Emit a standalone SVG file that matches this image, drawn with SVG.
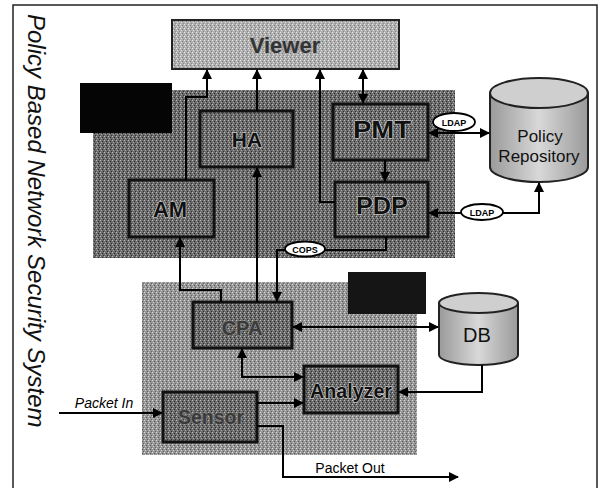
<svg xmlns="http://www.w3.org/2000/svg" width="600" height="488" viewBox="0 0 600 488">
<defs>
<marker id="arr" viewBox="0 0 10 10" refX="9" refY="5" markerWidth="10" markerHeight="10" markerUnits="userSpaceOnUse" orient="auto-start-reverse">
<path d="M0,0 L10,5 L0,10 z" fill="#000"/>
</marker>
<pattern id="stip" width="4" height="4" patternUnits="userSpaceOnUse">
<rect width="4" height="4" fill="#6c6c6c"/>
<rect x="0" y="0" width="1" height="1" fill="#bdbdbd"/>
<rect x="2" y="1" width="1" height="1" fill="#2a2a2a"/>
<rect x="1" y="2" width="1" height="1" fill="#a4a4a4"/>
<rect x="3" y="3" width="1" height="1" fill="#333"/>
</pattern>
<pattern id="stipL" width="4" height="4" patternUnits="userSpaceOnUse">
<rect width="4" height="4" fill="#969696"/>
<rect x="0" y="0" width="1" height="1" fill="#dcdcdc"/>
<rect x="2" y="1" width="1" height="1" fill="#555"/>
<rect x="1" y="2" width="1" height="1" fill="#cfcfcf"/>
<rect x="3" y="3" width="1" height="1" fill="#666"/>
</pattern>
<pattern id="stipV" width="4" height="4" patternUnits="userSpaceOnUse">
<rect width="4" height="4" fill="#b0b0b0"/>
<rect x="0" y="0" width="1" height="1" fill="#e6e6e6"/>
<rect x="2" y="1" width="1" height="1" fill="#777"/>
<rect x="1" y="2" width="1" height="1" fill="#dedede"/>
<rect x="3" y="3" width="1" height="1" fill="#888"/>
</pattern>
<linearGradient id="cyl" x1="0" y1="0" x2="1" y2="0">
<stop offset="0" stop-color="#9a9a9a"/>
<stop offset="0.5" stop-color="#d8d8d8"/>
<stop offset="1" stop-color="#9a9a9a"/>
</linearGradient>
</defs>
<style>
.box{fill:url(#stip);stroke:#111;stroke-width:3}
.lbl{font-family:"Liberation Sans",Arial,sans-serif;font-weight:bold;text-anchor:middle;fill:#111;stroke:#d8d8d8;stroke-width:1.2;paint-order:stroke}
.dim{fill:#3a3a3a;stroke:#8a8a8a}
.reg{font-family:"Liberation Sans",Arial,sans-serif;text-anchor:middle;fill:#111}
.conn path{fill:none;stroke:#000;stroke-width:2}
.tag{fill:#fff;stroke:#000;stroke-width:1.8}
.tagt{font-family:"Liberation Sans",Arial,sans-serif;font-weight:bold;font-size:9px;text-anchor:middle;fill:#000}
</style>
<rect width="600" height="488" fill="#fff"/>
<g id="frame" stroke="#222" stroke-width="1.5" fill="none">
<path d="M13,488 V5 H597 V488"/>
</g>
<text id="title" transform="translate(28,14) rotate(90)" font-family="Liberation Sans,Arial,sans-serif" font-style="italic" font-size="24" fill="#111">Policy Based Network Security System</text>

<g id="upper-region">
<rect x="93" y="90" width="362" height="168" fill="url(#stip)"/>
<rect x="80" y="83" width="92" height="50" fill="#050505"/>
</g>
<g id="lower-region">
<rect x="142" y="282" width="275" height="173" fill="url(#stipL)"/>
<rect x="348" y="272" width="78" height="42" fill="#151515"/>
</g>

<g id="viewer">
<rect x="172" y="20" width="227" height="49" fill="url(#stipV)" stroke="#222" stroke-width="2"/>
<text class="lbl" x="285" y="53" font-size="22" style="fill:#333;stroke:#aaa">Viewer</text>
</g>
<g id="ha">
<rect class="box" x="200" y="111" width="93" height="56"/>
<text class="lbl" x="247" y="147" font-size="21">HA</text>
</g>
<g id="am">
<rect class="box" x="129" y="180" width="85" height="57"/>
<text class="lbl" x="170" y="217" font-size="22">AM</text>
</g>
<g id="pmt">
<rect class="box" x="333" y="104" width="95" height="56"/>
<text class="lbl" x="382" y="138" font-size="24" textLength="58" lengthAdjust="spacingAndGlyphs">PMT</text>
</g>
<g id="pdp">
<rect class="box" x="335" y="182" width="93" height="55"/>
<text class="lbl" x="382" y="214" font-size="24" textLength="52" lengthAdjust="spacingAndGlyphs">PDP</text>
</g>
<g id="policy-repository">
<path d="M490,93 V167 A49,15 0 0 0 588,167 V93" fill="url(#cyl)" stroke="#222" stroke-width="2"/>
<ellipse cx="539" cy="93" rx="49" ry="15" fill="#cfcfcf" stroke="#222" stroke-width="2"/>
<text class="reg" x="540" y="142" font-size="17">Policy</text>
<text class="reg" x="539" y="162" font-size="17">Repository</text>
</g>
<g id="cpa">
<rect class="box" x="193" y="302" width="99" height="46"/>
<text class="lbl dim" x="242" y="335" font-size="20">CPA</text>
</g>
<g id="db">
<path d="M439,303 V355 A39.5,10 0 0 0 518,355 V303" fill="url(#cyl)" stroke="#222" stroke-width="2"/>
<ellipse cx="478.5" cy="303" rx="39.5" ry="10" fill="#cfcfcf" stroke="#222" stroke-width="2"/>
<text class="reg" x="477" y="342" font-size="20">DB</text>
</g>
<g id="analyzer">
<rect class="box" x="304" y="366" width="94" height="47"/>
<text class="lbl" x="351" y="398" font-size="20" textLength="82" lengthAdjust="spacingAndGlyphs">Analyzer</text>
</g>
<g id="sensor">
<rect class="box" x="163" y="392" width="94" height="50"/>
<text class="lbl dim" x="211" y="424" font-size="20" textLength="66" lengthAdjust="spacingAndGlyphs">Sensor</text>
</g>

<g id="connectors" class="conn">
<path d="M186,180 V97 H207 V70" marker-end="url(#arr)"/>
<path d="M257,111 V70" marker-end="url(#arr)"/>
<path d="M363,70 V103" marker-start="url(#arr)" marker-end="url(#arr)"/>
<path d="M385,160 V181" marker-end="url(#arr)"/>
<path d="M335,202 H320 V70" marker-end="url(#arr)"/>
<path d="M429,133 H489" marker-start="url(#arr)" marker-end="url(#arr)"/>
<path d="M429,213 H539 V183" marker-start="url(#arr)" marker-end="url(#arr)"/>
<path d="M386,237 V250 H277 V301" marker-end="url(#arr)"/>
<path d="M221,302 V290 H180 V238" marker-end="url(#arr)"/>
<path d="M257,302 V168" marker-end="url(#arr)"/>
<path d="M293,327 H438" marker-start="url(#arr)" marker-end="url(#arr)"/>
<path d="M482,365 V392 H399" marker-end="url(#arr)"/>
<path d="M242,349 V377 H303" marker-start="url(#arr)" marker-end="url(#arr)"/>
<path d="M257,403 H303" marker-end="url(#arr)"/>
<path d="M59,413 H162" marker-end="url(#arr)"/>
<path d="M257,426 H283 V477 H458" marker-end="url(#arr)"/>
<ellipse class="tag" cx="454" cy="122" rx="21" ry="9"/>
<text class="tagt" x="454" y="125.5">LDAP</text>
<ellipse class="tag" cx="482" cy="212" rx="21" ry="8"/>
<text class="tagt" x="482" y="215.5">LDAP</text>
<ellipse class="tag" cx="305" cy="249" rx="20" ry="7.5"/>
<text class="tagt" x="305" y="252.5">COPS</text>
<text x="104" y="408" font-family="Liberation Sans,Arial,sans-serif" font-size="14" font-style="italic" text-anchor="middle" fill="#000">Packet In</text>
<text x="350" y="473" font-family="Liberation Sans,Arial,sans-serif" font-size="14" text-anchor="middle" fill="#000">Packet Out</text>
</g>
</svg>
